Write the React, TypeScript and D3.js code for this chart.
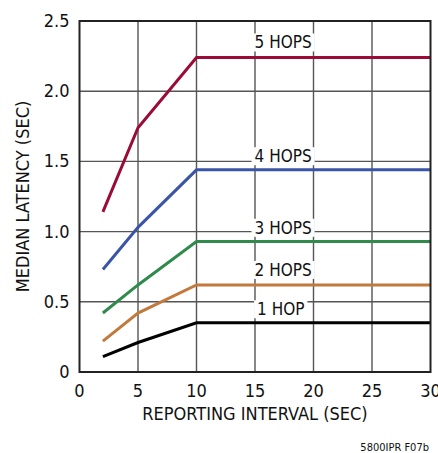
import { useEffect, useRef } from 'react';
import * as d3 from 'd3';

const intervals = [2, 5, 10, 30];
const hop1 = [0.11, 0.21, 0.35, 0.35];
const hop2 = [0.22, 0.42, 0.62, 0.62];
const hop3 = [0.42, 0.62, 0.93, 0.93];
const hop4 = [0.73, 1.03, 1.44, 1.44];
const hop5 = [1.14, 1.74, 2.24, 2.24];
const seriesNames = ['1 HOP', '2 HOPS', '3 HOPS', '4 HOPS', '5 HOPS'];
const seriesColors = ['#000000', '#c27a3c', '#2f8a4c', '#3b55a6', '#9a0b36'];
// label position in data units
const labelX = [17.2, 17.4, 17.4, 17.4, 17.4];
const labelY = [0.44, 0.72, 1.02, 1.53, 2.34];
const xTicks = [0, 5, 10, 15, 20, 25, 30];
const yTicks = [0, 0.5, 1.0, 1.5, 2.0, 2.5];

const FONT = '"Liberation Sans Narrow", "DejaVu Sans Condensed", "Roboto Condensed", Arial, sans-serif';

const App = () => {
  const svgRef = useRef<SVGSVGElement | null>(null);

  useEffect(() => {
    const width = 438;
    const height = 453;
    const svg = d3.select(svgRef.current);
    svg.selectAll('*').remove();
    svg.attr('width', width).attr('height', height);

    const left = 79.5, right = 430.5, top = 21, bottom = 372;
    const x = d3.scaleLinear().domain([0, 30]).range([left, right]);
    const y = d3.scaleLinear().domain([0, 2.5]).range([bottom, top]);

    svg.append('rect').attr('width', width).attr('height', height).attr('fill', 'white');

    // grid
    const grid = svg.append('g').attr('stroke', '#555').attr('stroke-width', 1.4);
    xTicks.slice(1, -1).forEach(t => {
      grid.append('line').attr('x1', x(t)).attr('x2', x(t)).attr('y1', top).attr('y2', bottom);
    });
    yTicks.slice(1, -1).forEach(t => {
      grid.append('line').attr('x1', left).attr('x2', right).attr('y1', y(t)).attr('y2', y(t));
    });

    // series labels on white boxes that break the grid
    const series = [hop1, hop2, hop3, hop4, hop5];
    seriesNames.forEach((name, i) => {
      const g = svg.append('g');
      const t = g.append('text')
        .attr('x', x(labelX[i]))
        .attr('y', y(labelY[i]))
        .attr('text-anchor', 'middle')
        .attr('dominant-baseline', 'middle')
        .style('font-family', FONT)
        .style('font-size', '17px')
        .attr('fill', '#111')
        .text(name);
      const bb = (t.node() as SVGTextElement).getBBox();
      g.insert('rect', 'text')
        .attr('x', bb.x - 3)
        .attr('y', bb.y + 1)
        .attr('width', bb.width + 6)
        .attr('height', bb.height - 2)
        .attr('fill', 'white');
    });

    const line = d3.line<number>()
      .x((_, j) => x(intervals[j]))
      .y(d => y(d));

    series.forEach((s, i) => {
      svg.append('path')
        .datum(s)
        .attr('d', line)
        .attr('fill', 'none')
        .attr('stroke', seriesColors[i])
        .attr('stroke-width', 3)
        .attr('stroke-linejoin', 'miter');
    });

    // frame
    svg.append('rect')
      .attr('x', left).attr('y', top)
      .attr('width', right - left).attr('height', bottom - top)
      .attr('fill', 'none').attr('stroke', '#222').attr('stroke-width', 2);

    // tick labels
    xTicks.forEach(t => {
      svg.append('text')
        .attr('x', x(t)).attr('y', bottom + 25)
        .attr('text-anchor', 'middle')
        .style('font-family', FONT).style('font-size', '18px')
        .attr('fill', '#111')
        .text(String(t));
    });
    yTicks.forEach(t => {
      svg.append('text')
        .attr('x', left - 10).attr('y', y(t) + 6)
        .attr('text-anchor', 'end')
        .style('font-family', FONT).style('font-size', '18px')
        .attr('fill', '#111')
        .text(t === 0 ? '0' : t.toFixed(1));
    });

    svg.append('text')
      .attr('x', 255).attr('y', 420)
      .attr('text-anchor', 'middle')
      .style('font-family', FONT).style('font-size', '18px')
      .attr('fill', '#111')
      .text('REPORTING INTERVAL (SEC)');

    svg.append('text')
      .attr('transform', `translate(29, ${(top + bottom) / 2}) rotate(-90)`)
      .attr('text-anchor', 'middle')
      .style('font-family', FONT).style('font-size', '18px')
      .attr('fill', '#111')
      .text('MEDIAN LATENCY (SEC)');

    svg.append('text')
      .attr('x', 429).attr('y', 451)
      .attr('text-anchor', 'end')
      .style('font-family', FONT).style('font-size', '11px')
      .attr('fill', '#111')
      .text('5800IPR F07b');
  }, []);

  return <svg ref={svgRef} style={{ position: 'absolute', left: 0, top: 0 }}></svg>;
};

export default App;
